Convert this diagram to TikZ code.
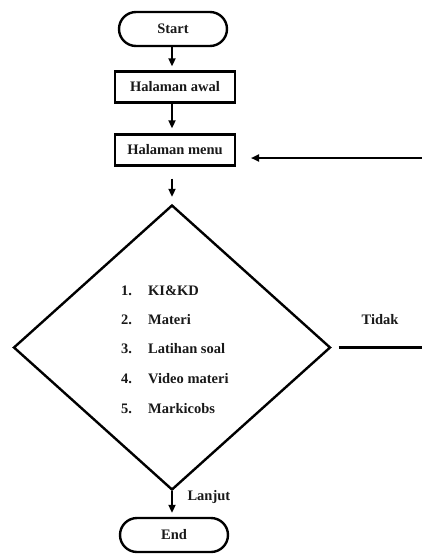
\documentclass[tikz,border=0pt]{standalone}
\usepackage{fontspec}
\setmainfont{Liberation Serif}
\usetikzlibrary{shapes.misc,shapes.geometric,arrows.meta}
\tikzset{
  every node/.style={font=\fontsize{14.5}{17}\selectfont\bfseries, text=black!90},
  terminal/.style={draw, line width=2.4pt, rounded rectangle, minimum width=108pt, minimum height=34pt, inner sep=0pt},
  process/.style={draw, line width=2.4pt, rectangle, minimum width=120pt, minimum height=31pt, inner sep=0pt},
  decision/.style={draw, line width=2.4pt, diamond, minimum width=317pt, minimum height=285pt, inner sep=0pt},
  flow/.style={line width=2.2pt, -{Triangle[length=8pt,width=7pt]}},
  plain/.style={line width=2.4pt},
  item/.style={anchor=west, inner sep=0pt}
}
\begin{document}
\begin{tikzpicture}[x=1pt,y=-1pt]
\useasboundingbox (0,0) rectangle (422,555);

% main column
\node[terminal] (start) at (173,29) {Start};
\node[process]  (awal)  at (175,87) {Halaman awal};
\node[process]  (menu)  at (175,150) {Halaman menu};
\node[decision] (dec)   at (172,347.5) {};
\node[terminal] (end)   at (174,535) {End};

% menu entries inside the decision
\node[item] (n1) at (121,291) {1.};
\node[item] (t1) at (148,291) {KI\&KD};
\node[item] (n2) at (121,320) {2.};
\node[item] (t2) at (148,320) {Materi};
\node[item] (n3) at (121,349) {3.};
\node[item] (t3) at (148,349) {Latihan soal};
\node[item] (n4) at (121,379) {4.};
\node[item] (t4) at (148,379) {Video materi};
\node[item] (n5) at (121,409) {5.};
\node[item] (t5) at (148,409) {Markicobs};

% connectors
\draw[flow, shorten >=4pt] (start.south -| 172,0) -- (awal.north -| 172,0);
\draw[flow, shorten >=5pt] (awal.south -| 172,0) -- (menu.north -| 172,0);
\draw[flow, shorten <=12pt, shorten >=7pt] (menu.south -| 172,0) -- (dec.north);
\draw[flow, shorten >=4pt] (dec.south) -- (end.north -| dec.south);
\node[anchor=west] (lanjut) at (184,497) {Lanjut};

% "Tidak" branch returning to the menu
\coordinate (tidakend) at (422,347.5);
\coordinate (backstart) at (422,158);
\coordinate (backtip) at (251,158);
\draw[plain, shorten <=7pt] (dec.east) -- (tidakend);
\node (tidak) at (380,320) {Tidak};
\draw[flow] (backstart) -- (backtip);
\end{tikzpicture}
\end{document}
